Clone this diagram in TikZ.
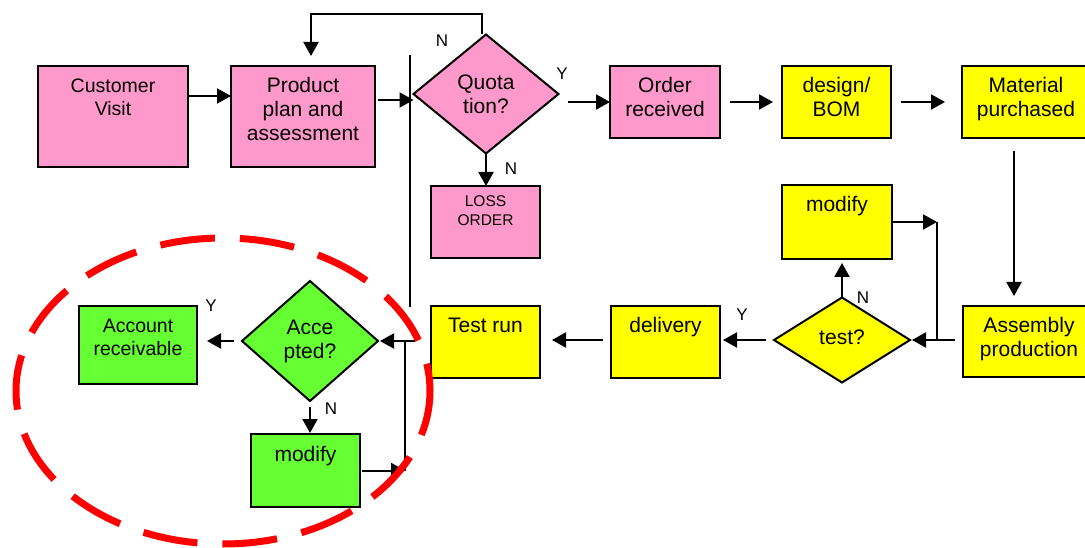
\documentclass[tikz,border=0pt]{standalone}
\usepackage{fontspec}
\setmainfont{Liberation Sans}
\usetikzlibrary{arrows.meta,shapes.geometric}
\definecolor{pinkfill}{HTML}{FF99CC}
\definecolor{yellowfill}{HTML}{FFFF00}
\definecolor{greenfill}{HTML}{66FF33}
\definecolor{ringred}{HTML}{FF0000}
\newcommand\tb[4]{\parbox[c][#2][t]{#1}{\centering\rule{0pt}{#3}#4\par}}
\tikzset{
  box/.style={draw=black, line width=2pt, inner sep=0pt, outer sep=0pt, font=\fontsize{21}{24}\selectfont},
  pinkbox/.style={box, fill=pinkfill},
  yelbox/.style={box, fill=yellowfill},
  grnbox/.style={box, fill=greenfill},
  dia/.style={diamond, draw=black, line width=2pt, inner sep=0pt, outer sep=0pt, align=center, font=\fontsize{21}{24}\selectfont},
  pinkdia/.style={dia, fill=pinkfill},
  yeldia/.style={dia, fill=yellowfill},
  grndia/.style={dia, fill=greenfill},
  arr/.style={line width=2pt, -{Triangle[length=14pt,width=15pt]}},
  ln/.style={line width=2pt},
  lbl/.style={font=\fontsize{17}{20}\selectfont, inner sep=0pt},
  ring/.style={draw=ringred, line width=7pt, dash pattern=on 55pt off 25pt, dash phase=27.5pt}
}
\begin{document}
\begin{tikzpicture}[x=1pt,y=-1pt]
\useasboundingbox (0,0) rectangle (1085,548);
% nodes
\node[pinkbox, font=\fontsize{19.5}{23}\selectfont] (cust) at (113,116.5) {\tb{150pt}{101pt}{27pt}{Customer\\Visit}};
\node[pinkbox] (prod) at (303,116.5) {\tb{144pt}{101pt}{27pt}{Product\\plan and\\assessment}};
\node[pinkdia, minimum width=145pt, minimum height=119pt] (quo) at (486,94) {Quota\\tion?};
\node[pinkbox, font=\fontsize{15.5}{19}\selectfont] (loss) at (485.5,222) {\tb{109pt}{72pt}{21pt}{LOSS\\ORDER}};
\node[pinkbox] (order) at (665,102) {\tb{110pt}{72pt}{27pt}{Order\\received}};
\node[yelbox] (design) at (836.5,102) {\tb{109pt}{72pt}{27pt}{design/\\BOM}};
\node[yelbox] (mat) at (1026,102) {\tb{128pt}{72pt}{27pt}{Material\\purchased}};
\node[yelbox] (asm) at (1029,341.5) {\tb{132pt}{71pt}{27pt}{Assembly\\production}};
\node[yelbox] (ymod) at (837,222) {\tb{110pt}{74pt}{27pt}{modify}};
\node[yeldia, minimum width=136pt, minimum height=85pt] (test) at (842,340) {\raisebox{5pt}{test?}};
\node[yelbox] (deliv) at (665.5,342) {\tb{109pt}{72pt}{27pt}{delivery}};
\node[yelbox] (trun) at (485.5,342) {\tb{109pt}{72pt}{27pt}{Test run}};
\node[grnbox, font=\fontsize{19.5}{23}\selectfont] (acct) at (138,345) {\tb{118pt}{78pt}{27pt}{Account\\receivable}};
\node[grndia, minimum width=136pt, minimum height=120pt] (acc) at (310,341) {Acce\\pted?};
\node[grnbox] (gmod) at (305.5,470.5) {\tb{109pt}{73pt}{27pt}{modify}};
% labels
\node[lbl] (lN1) at (442,41) {N};
\node[lbl] (lY1) at (562,74) {Y};
\node[lbl] (lN2) at (511,169) {N};
\node[lbl] (lY2) at (742,315) {Y};
\node[lbl] (lN3) at (863,298) {N};
\node[lbl] (lY3) at (211,306) {Y};
\node[lbl] (lN4) at (331,409) {N};
% coordinates
\coordinate (lt) at (311,14);
\coordinate (lb) at (311,56);
\coordinate (j1) at (937,340);
\coordinate (j2) at (405,341);
\coordinate (v1) at (410,55);
\coordinate (v2) at (410,307);
% connectors
\draw[arr] ([yshift=20.5pt]cust.east) -- ([yshift=20.5pt]prod.west);
\draw[arr, shorten <=3pt] ([yshift=16.5pt]prod.east) -- ([yshift=-6pt]quo.west);
\draw[arr] ([xshift=-4pt]quo.north) |- (lt) -- (lb);
\draw[arr] (quo.south) -- (quo.south |- loss.north);
\draw[arr, shorten <=9pt] (quo.east |- order.west) -- (order.west);
\draw[arr, shorten <=10pt, shorten >=9pt] (order.east) -- (design.west);
\draw[arr, shorten <=10pt, shorten >=17pt] (design.east) -- (mat.west);
\draw[arr, shorten <=13pt, shorten >=10pt] ([xshift=-12pt]mat.south) -- ([xshift=-15pt]asm.north);
\draw[arr, shorten <=8pt, shorten >=2pt] (asm.west |- test.east) -- (test.east);
\draw[arr, shorten <=1pt] (ymod.east) -- (ymod.east -| j1);
\draw[ln] (ymod.east -| j1) -- (j1);
\draw[arr, shorten >=4pt] (test.north) -- (test.north |- ymod.south);
\draw[arr, shorten <=8pt, shorten >=3pt] (test.west) -- (test.west -| deliv.east);
\draw[arr, shorten <=8pt, shorten >=12pt] (deliv.west |- test.west) -- (trun.east |- test.west);
\draw[arr, shorten <=16pt, shorten >=2pt] (trun.west |- acc.east) -- (acc.east);
\draw[arr, shorten <=2pt] (gmod.east) -- (gmod.east -| j2);
\draw[ln] (gmod.east -| j2) -- (j2);
\draw[arr, shorten <=6pt, shorten >=1pt] (acc.south) -- (acc.south |- gmod.north);
\draw[arr, shorten <=8pt, shorten >=10pt] (acc.west) -- (acc.west -| acct.east);
\draw[ln] (v1) -- (v2);
% red dashed ring
\draw[ring] (223,391) ellipse [x radius=207pt, y radius=153pt];
\end{tikzpicture}
\end{document}
